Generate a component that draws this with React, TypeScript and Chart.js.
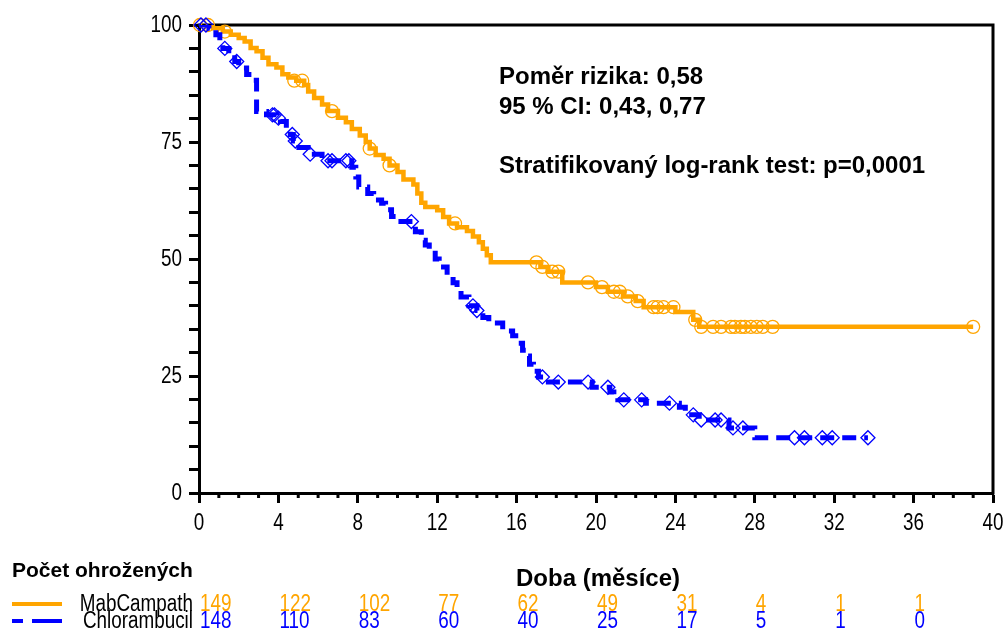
import React, { useEffect, useRef } from 'react';
import { Chart, registerables } from 'chart.js';

Chart.register(...registerables);

const ORANGE = '#FFA500';
const BLUE = '#0000FF';

// MabCampath Kaplan-Meier steps (months, % event-free)
const mabTimes = [0, 0.7, 1.2, 1.6, 2.0, 2.3, 2.6, 2.9, 3.2, 3.5, 3.9, 4.2, 4.5, 4.9, 5.3, 5.5, 5.8, 6.2, 6.5, 7.0, 7.4, 7.7, 8.1, 8.4, 8.6, 8.9, 9.3, 9.6, 10.0, 10.3, 10.8, 11.0, 11.2, 11.4, 12.0, 12.3, 12.6, 13.0, 13.5, 13.8, 14.1, 14.3, 14.5, 14.7, 17.2, 17.6, 18.3, 20.0, 20.6, 21.4, 22.0, 22.4, 24.0, 24.9, 25.2, 39.0];
const mabSurv = [100, 99.3, 98.6, 97.9, 97.2, 96.5, 95.1, 94.4, 93.0, 91.6, 90.9, 89.5, 88.8, 88.1, 87.2, 85.8, 84.4, 83.0, 81.6, 80.2, 79.2, 77.8, 76.4, 75.0, 73.6, 72.2, 71.4, 70.0, 68.6, 67.0, 65.9, 64.0, 62.0, 61.1, 60.4, 59.0, 57.6, 56.8, 56.0, 54.8, 53.6, 52.2, 50.8, 49.3, 48.3, 47.3, 45.0, 44.0, 43.0, 42.0, 41.0, 39.7, 38.7, 37.0, 35.5, 35.5];

// MabCampath censored observations
const mabCensT = [0.05, 0.45, 1.3, 4.8, 5.2, 6.7, 8.6, 9.6, 12.9, 17.0, 17.3, 17.8, 18.1, 19.6, 20.3, 20.9, 21.2, 21.6, 22.1, 22.9, 23.1, 23.4, 23.9, 25.0, 25.3, 25.9, 26.3, 26.8, 27.0, 27.3, 27.5, 27.8, 28.1, 28.4, 28.9, 39.0];
const mabCensS = [100, 100, 98.6, 88.1, 88.1, 81.6, 73.6, 70.0, 57.6, 49.3, 48.3, 47.3, 47.3, 45.0, 44.0, 43.0, 43.0, 42.0, 41.0, 39.7, 39.7, 39.7, 39.7, 37.0, 35.5, 35.5, 35.5, 35.5, 35.5, 35.5, 35.5, 35.5, 35.5, 35.5, 35.5, 35.5];

// Chlorambucil Kaplan-Meier steps
const chlTimes = [0, 0.5, 0.85, 1.05, 1.2, 1.5, 1.8, 2.0, 2.4, 2.7, 2.9, 3.4, 3.9, 4.1, 4.4, 4.6, 4.75, 4.9, 5.5, 6.2, 7.7, 7.9, 8.05, 8.5, 8.8, 9.2, 9.4, 9.7, 10.0, 10.9, 11.2, 11.4, 11.6, 11.9, 12.1, 12.5, 12.8, 13.0, 13.2, 13.6, 14.0, 14.3, 14.6, 15.3, 15.8, 16.1, 16.3, 16.5, 16.65, 16.85, 17.1, 17.6, 19.8, 20.7, 20.9, 21.1, 22.5, 24.2, 24.5, 25.2, 26.7, 28.0, 33.7];
const chlSurv = [100, 99.3, 97.9, 96.4, 95.0, 93.6, 92.2, 90.8, 89.4, 88.2, 81.5, 80.8, 80.1, 79.4, 78.0, 76.6, 75.2, 73.8, 72.4, 71.0, 69.6, 67.5, 65.4, 64.0, 62.6, 61.9, 60.5, 59.1, 58.0, 55.8, 54.0, 53.0, 51.9, 50.0, 48.3, 46.6, 44.9, 43.4, 41.9, 40.0, 39.0, 37.5, 36.3, 34.6, 33.6, 32.0, 30.5, 29.3, 27.5, 26.0, 24.8, 23.7, 22.6, 21.6, 20.6, 19.9, 19.2, 18.3, 16.7, 15.6, 13.9, 11.8, 11.8];

// Chlorambucil censored observations
const chlCensT = [0.1, 0.35, 1.3, 1.9, 3.7, 3.8, 4.0, 4.7, 4.85, 5.6, 6.5, 6.7, 7.4, 7.55, 10.7, 13.8, 14.0, 17.3, 18.1, 19.6, 20.6, 21.4, 22.3, 23.7, 24.9, 25.3, 26.0, 26.3, 26.9, 27.4, 30.0, 30.5, 31.4, 31.9, 33.7];
const chlCensS = [100, 100, 95.0, 92.2, 80.8, 80.8, 80.1, 76.6, 75.2, 72.4, 71.0, 71.0, 71.0, 71.0, 58.0, 40.0, 39.0, 24.8, 23.7, 23.7, 22.6, 19.9, 19.9, 19.2, 16.7, 15.6, 15.6, 15.6, 13.9, 13.9, 11.8, 11.8, 11.8, 11.8, 11.8];

// Number at risk
const riskTimes = [0, 4, 8, 12, 16, 20, 24, 28, 32, 36];
const mabRisk = [149, 122, 102, 77, 62, 49, 31, 4, 1, 1];
const chlRisk = [148, 110, 83, 60, 40, 25, 17, 5, 1, 0];

const yTickLabels = [0, 25, 50, 75, 100];
const xTickLabels = [0, 4, 8, 12, 16, 20, 24, 28, 32, 36, 40];

const annotationLines = ['Poměr rizika: 0,58', '95 % CI: 0,43, 0,77', 'Stratifikovaný log-rank test: p=0,0001'];
const xTitle = 'Doba (měsíce)';
const riskTitle = 'Počet ohrožených';
const seriesNames = ['MabCampath', 'Chlorambucil'];

const toXY = (t: number[], s: number[]) => t.map((x, i) => ({ x, y: s[i] }));

const NARROW = "'Liberation Sans', Arial, sans-serif";
const BOLD = "bold 24px 'Liberation Sans', Arial, sans-serif";

function narrowText(ctx: CanvasRenderingContext2D, text: string, x: number, y: number, align: CanvasTextAlign, size = 23) {
  ctx.save();
  ctx.translate(x, y);
  ctx.scale(0.82, 1);
  ctx.font = `${size}px ${NARROW}`;
  ctx.textAlign = align;
  ctx.textBaseline = 'middle';
  ctx.fillText(text, 0, 0);
  ctx.restore();
}

const decor = {
  id: 'decor',
  beforeDatasetsDraw(chart: any) {
    const { ctx, chartArea } = chart;
    const { left, right, top, bottom } = chartArea;
    ctx.save();
    ctx.strokeStyle = '#000';
    ctx.lineWidth = 3;
    ctx.beginPath();
    ctx.moveTo(left - 1.5, top);
    ctx.lineTo(right, top);
    ctx.lineTo(right, bottom + 1.5);
    ctx.stroke();
    ctx.restore();
  },
  afterDraw(chart: any) {
    const { ctx, chartArea } = chart;
    const xs = chart.scales.x;
    const ys = chart.scales.y;
    ctx.save();
    // minor x ticks
    ctx.fillStyle = '#000';
    for (let t = 0; t <= 40; t++) {
      if (t % 4 === 0) continue;
      const px = xs.getPixelForValue(t);
      ctx.fillRect(px - 1.5, chartArea.bottom + 1, 3, 4);
    }
    // y tick labels
    ctx.fillStyle = '#000';
    yTickLabels.forEach((v) => {
      narrowText(ctx, String(v), chartArea.left - 17, ys.getPixelForValue(v) + 1, 'right');
    });
    xTickLabels.forEach((v) => {
      narrowText(ctx, String(v), xs.getPixelForValue(v), chartArea.bottom + 31, 'center');
    });
    // annotation
    ctx.font = BOLD;
    ctx.textAlign = 'left';
    ctx.textBaseline = 'middle';
    ctx.fillStyle = '#000';
    ctx.fillText(annotationLines[0], 499, 77);
    ctx.fillText(annotationLines[1], 499, 107);
    ctx.fillText(annotationLines[2], 499, 166);
    // x title
    ctx.textAlign = 'center';
    ctx.fillText(xTitle, 598, 579);
    // risk title
    ctx.font = "bold 21px 'Liberation Sans', Arial, sans-serif";
    ctx.textAlign = 'left';
    ctx.fillText(riskTitle, 12, 571);
    // risk table legend lines
    ctx.lineWidth = 4;
    ctx.strokeStyle = ORANGE;
    ctx.beginPath();
    ctx.moveTo(12, 604);
    ctx.lineTo(62, 604);
    ctx.stroke();
    ctx.strokeStyle = BLUE;
    ctx.setLineDash([11, 9, 30, 100]);
    ctx.beginPath();
    ctx.moveTo(12, 621);
    ctx.lineTo(62, 621);
    ctx.stroke();
    ctx.setLineDash([]);
    ctx.fillStyle = '#000';
    narrowText(ctx, seriesNames[0], 193, 605, 'right');
    narrowText(ctx, seriesNames[1], 193, 622, 'right');
    riskTimes.forEach((t, i) => {
      const px = xs.getPixelForValue(t) + 1;
      ctx.fillStyle = ORANGE;
      narrowText(ctx, String(mabRisk[i]), px, 605, 'left');
      ctx.fillStyle = BLUE;
      narrowText(ctx, String(chlRisk[i]), px, 622, 'left');
    });
    ctx.restore();
  },
};

export default function App() {
  const ref = useRef<HTMLCanvasElement | null>(null);
  useEffect(() => {
    if (!ref.current) return;
    const chart = new Chart(ref.current, {
      type: 'line',
      data: {
        datasets: [
          {
            label: seriesNames[1],
            data: toXY(chlTimes, chlSurv),
            borderColor: BLUE,
            borderWidth: 5,
            borderDash: [14, 8],
            stepped: 'before',
            pointRadius: 0,
            fill: false,
          },
          {
            label: seriesNames[0],
            data: toXY(mabTimes, mabSurv),
            borderColor: ORANGE,
            borderWidth: 4.5,
            stepped: 'before',
            pointRadius: 0,
            fill: false,
          },
          {
            label: 'cens-chl',
            data: toXY(chlCensT, chlCensS),
            showLine: false,
            pointStyle: 'rectRot',
            pointRadius: 7,
            pointBorderWidth: 1.3,
            pointBorderColor: BLUE,
            pointBackgroundColor: 'transparent',
            clip: false,
          },
          {
            label: 'cens-mab',
            data: toXY(mabCensT, mabCensS),
            showLine: false,
            pointStyle: 'circle',
            pointRadius: 6.5,
            pointBorderWidth: 1.3,
            pointBorderColor: ORANGE,
            pointBackgroundColor: 'transparent',
            clip: false,
          },
        ] as any,
      },
      options: {
        responsive: false,
        animation: false,
        events: [],
        layout: { padding: { top: 25, right: 15, left: 0, bottom: 0 } },
        plugins: { legend: { display: false }, tooltip: { enabled: false } },
        scales: {
          x: {
            type: 'linear',
            min: 0,
            max: 40,
            ticks: { display: false, stepSize: 1, autoSkip: false, maxTicksLimit: 100 },
            grid: {
              display: true,
              drawOnChartArea: false,
              drawTicks: true,
              tickLength: 10,
              tickWidth: 3,
              tickColor: (c: any) => (c.tick && c.tick.value % 4 === 0 ? '#000' : 'rgba(0,0,0,0)'),
            },
            border: { display: true, color: '#000', width: 3 },
            afterFit: (s: any) => {
              s.height = 141;
            },
          },
          y: {
            type: 'linear',
            min: 0,
            max: 100,
            ticks: { display: false, stepSize: 5, autoSkip: false, maxTicksLimit: 100 },
            grid: {
              display: true,
              drawOnChartArea: false,
              drawTicks: true,
              tickLength: 10,
              tickWidth: 3,
              tickColor: '#000',
            },
            border: { display: true, color: '#000', width: 3 },
            afterFit: (s: any) => {
              s.width = 199;
            },
          },
        },
      } as any,
      plugins: [decor],
    });
    return () => chart.destroy();
  }, []);
  return (
    <div style={{ position: 'absolute', left: 0, top: 0, width: 1008, height: 634, background: '#fff' }}>
      <canvas ref={ref} width={1008} height={634} style={{ width: 1008, height: 634 }} />
    </div>
  );
}
